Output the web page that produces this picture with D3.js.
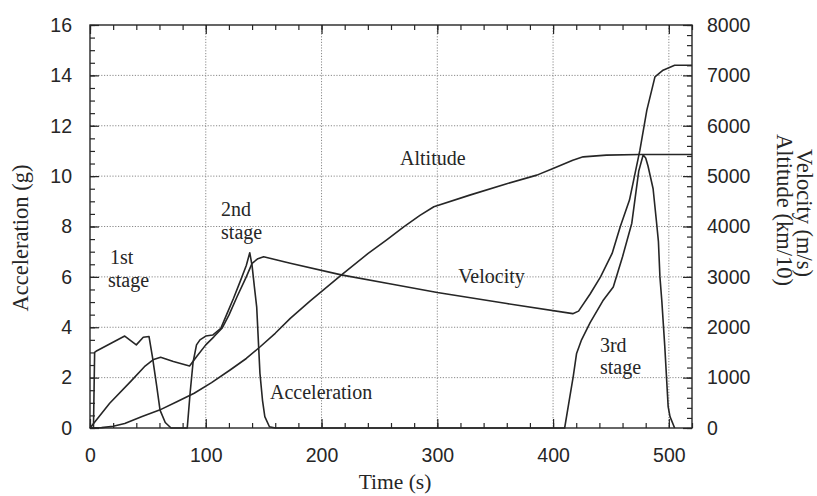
<!DOCTYPE html>
<html>
<head>
<meta charset="utf-8">
<script src="https://cdn.jsdelivr.net/npm/d3@7"></script>
<style>
  html, body { margin: 0; padding: 0; background: #fff; }
  svg { display: block; }
</style>
</head>
<body>
<svg id="chart" width="817" height="496"></svg>
<script>
// Launch profile of a three-stage rocket: acceleration on the left axis,
// velocity and altitude (km/10) on the right axis, both against time.

// Acceleration (g) vs time (s)
const accelTime = [0, 3, 4, 6, 30, 40, 46, 51, 54, 57.5, 60.5, 65, 70,
  84, 86.5, 89, 92, 95, 100, 106, 113, 118, 124, 130, 135, 138, 140, 142, 144, 146.8, 149, 151, 155, 160,
  410, 414.5, 417.4, 420.3, 424.6, 432, 443, 452, 460, 468, 474, 477.8, 480, 482, 486.4, 489.3, 491, 492.3, 494, 496.5, 499.4, 501, 505];
const accelG = [0, 0, 3.0, 3.07, 3.65, 3.3, 3.6, 3.63, 2.8, 1.7, 0.71, 0.22, 0,
  0, 1.4, 2.6, 3.3, 3.5, 3.65, 3.69, 3.96, 4.5, 5.15, 5.85, 6.45, 6.96, 6.45, 5.6, 4.8, 2.17, 1.1, 0.45, 0.05, 0,
  0, 1.25, 2.04, 2.96, 3.5, 4.18, 5.05, 5.6, 6.8, 8.13, 10.2, 10.84, 10.72, 10.4, 9.5, 8.2, 7.4, 6.0, 5.0, 3.23, 0.85, 0.45, 0];

// Velocity (m/s) vs time (s)
const velTime = [0, 17, 35, 47, 55, 61, 72, 86, 92, 100, 107, 114, 120, 127, 135, 140, 145, 150,
  173, 217, 260, 300, 360, 417, 422, 432, 441, 451, 458, 466, 475, 481, 488, 495, 505, 520];
const velocity = [0, 490, 920, 1216, 1360, 1405, 1320, 1230, 1415, 1650, 1810, 1980, 2240, 2605, 3000, 3268, 3360, 3400,
  3270, 3040, 2860, 2690, 2470, 2270, 2320, 2660, 3000, 3466, 3994, 4524, 5516, 6310, 6970, 7103, 7200, 7200];

// Altitude (km/10) vs time (s)
const altTime = [0, 10, 20, 30, 45, 60, 75, 90, 105, 121, 135, 147, 160, 173, 190, 217, 240, 256, 271, 285, 297,
  328, 360, 386, 400, 417, 426, 446, 475, 520];
const altitude = [0, 8, 35, 90, 230, 355, 520, 690, 900, 1151, 1380, 1613, 1880, 2176, 2520, 3036, 3460, 3730, 3994, 4220, 4391,
  4623, 4850, 5020, 5150, 5317, 5383, 5417, 5430, 5430];

// Axis ticks
const timeTicks = [0, 100, 200, 300, 400, 500];
const accelTicks = [0, 2, 4, 6, 8, 10, 12, 14, 16];
const velTicks = [0, 1000, 2000, 3000, 4000, 5000, 6000, 7000, 8000];

// Curve annotations
const labelText = ["Altitude", "Velocity", "Acceleration", "1st", "stage", "2nd", "stage", "3rd", "stage"];
const labelTime = [267.8, 318, 155.5, 17.3, 15.5, 113.2, 113.2, 440.5, 440.5];
const labelVal = [10.44, 5.76, 1.15, 6.5, 5.6, 8.42, 7.52, 3.02, 2.16];

const svg = d3.select("#chart");
const plotLeft = 90, plotRight = 692, plotTop = 25, plotBottom = 428;

const x = d3.scaleLinear().domain([0, 520]).range([plotLeft, plotRight]);
const yA = d3.scaleLinear().domain([0, 16]).range([plotBottom, plotTop]);
const yV = d3.scaleLinear().domain([0, 8000]).range([plotBottom, plotTop]);

const ink = "#262626";
const tickFont = "'Liberation Sans', Arial, Helvetica, sans-serif";
const serif = "'Liberation Serif', 'Times New Roman', Times, serif";

// Dotted grid at the major ticks
const grid = svg.append("g").attr("stroke", "#8a8a8a").attr("stroke-width", 1)
  .attr("stroke-dasharray", "1.2,1.6");
grid.selectAll("line.v").data(timeTicks.filter(d => d > 0)).join("line").attr("class", "v")
  .attr("x1", d => x(d)).attr("x2", d => x(d)).attr("y1", plotTop).attr("y2", plotBottom);
grid.selectAll("line.h").data(accelTicks.filter(d => d > 0 && d < 16)).join("line").attr("class", "h")
  .attr("x1", plotLeft).attr("x2", plotRight).attr("y1", d => yA(d)).attr("y2", d => yA(d));

// Inward tick marks on all four sides
function styleAxis(g) {
  g.select(".domain").remove();
  g.selectAll(".tick line").attr("stroke", ink).attr("stroke-width", 1.2);
  g.selectAll(".tick text").attr("fill", ink).style("font-family", tickFont).style("font-size", "19.5px");
}
const minorTime = d3.range(0, 521, 20);
const minorAccel = d3.range(0, 16.01, 0.5);
const minorVel = d3.range(0, 8001, 200);

svg.append("g").attr("transform", `translate(0,${plotBottom})`)
  .call(d3.axisBottom(x).tickValues(minorTime).tickSize(-5).tickFormat("")).call(styleAxis);
svg.append("g").attr("transform", `translate(0,${plotBottom})`)
  .call(d3.axisBottom(x).tickValues(timeTicks).tickSize(-9).tickPadding(20).tickFormat(d3.format("d"))).call(styleAxis);
svg.append("g").attr("transform", `translate(0,${plotTop})`)
  .call(d3.axisTop(x).tickValues(minorTime).tickSize(-5).tickFormat("")).call(styleAxis);
svg.append("g").attr("transform", `translate(0,${plotTop})`)
  .call(d3.axisTop(x).tickValues(timeTicks).tickSize(-9).tickFormat("")).call(styleAxis);

svg.append("g").attr("transform", `translate(${plotLeft},0)`)
  .call(d3.axisLeft(yA).tickValues(minorAccel).tickSize(-5).tickFormat("")).call(styleAxis);
svg.append("g").attr("transform", `translate(${plotLeft},0)`)
  .call(d3.axisLeft(yA).tickValues(accelTicks).tickSize(-9).tickPadding(18).tickFormat(d3.format("d"))).call(styleAxis);

svg.append("g").attr("transform", `translate(${plotRight},0)`)
  .call(d3.axisRight(yV).tickValues(minorVel).tickSize(-5).tickFormat("")).call(styleAxis);
svg.append("g").attr("transform", `translate(${plotRight},0)`)
  .call(d3.axisRight(yV).tickValues(velTicks).tickSize(-9).tickPadding(15).tickFormat(d3.format("d"))).call(styleAxis);

// Plot frame
svg.append("rect").attr("x", plotLeft).attr("y", plotTop)
  .attr("width", plotRight - plotLeft).attr("height", plotBottom - plotTop)
  .attr("fill", "none").attr("stroke", ink).attr("stroke-width", 1.4);

// Curves
const plot = svg.append("g").attr("fill", "none").attr("stroke", ink)
  .attr("stroke-width", 1.6).attr("stroke-linejoin", "round");
const accelLine = d3.line().x(i => x(accelTime[i])).y(i => yA(accelG[i]));
const velLine = d3.line().x(i => x(velTime[i])).y(i => yV(velocity[i]));
const altLine = d3.line().x(i => x(altTime[i])).y(i => yV(altitude[i]));
plot.append("path").attr("d", accelLine(d3.range(accelTime.length)));
plot.append("path").attr("d", velLine(d3.range(velTime.length)));
plot.append("path").attr("d", altLine(d3.range(altTime.length)));

// Axis titles
svg.append("text").attr("x", 395).attr("y", 489).attr("text-anchor", "middle")
  .style("font-family", serif).style("font-size", "21.5px").attr("fill", ink).text("Time (s)");
svg.append("text").attr("transform", "translate(28,238) rotate(-90)").attr("text-anchor", "middle")
  .style("font-family", serif).style("font-size", "22.5px").attr("fill", ink).text("Acceleration (g)");
svg.append("text").attr("transform", "translate(797,213) rotate(90)").attr("text-anchor", "middle")
  .style("font-family", serif).style("font-size", "22.5px").attr("fill", ink).text("Velocity (m/s)");
svg.append("text").attr("transform", "translate(777,210) rotate(90)").attr("text-anchor", "middle")
  .style("font-family", serif).style("font-size", "22.5px").attr("fill", ink).text("Altitude (km/10)");

// Annotations placed in data coordinates next to the curves they name
svg.append("g").style("font-family", serif).style("font-size", "20px").attr("fill", ink)
  .selectAll("text").data(labelText).join("text")
  .attr("x", (d, i) => x(labelTime[i])).attr("y", (d, i) => yA(labelVal[i]))
  .text(d => d);
</script>
</body>
</html>
